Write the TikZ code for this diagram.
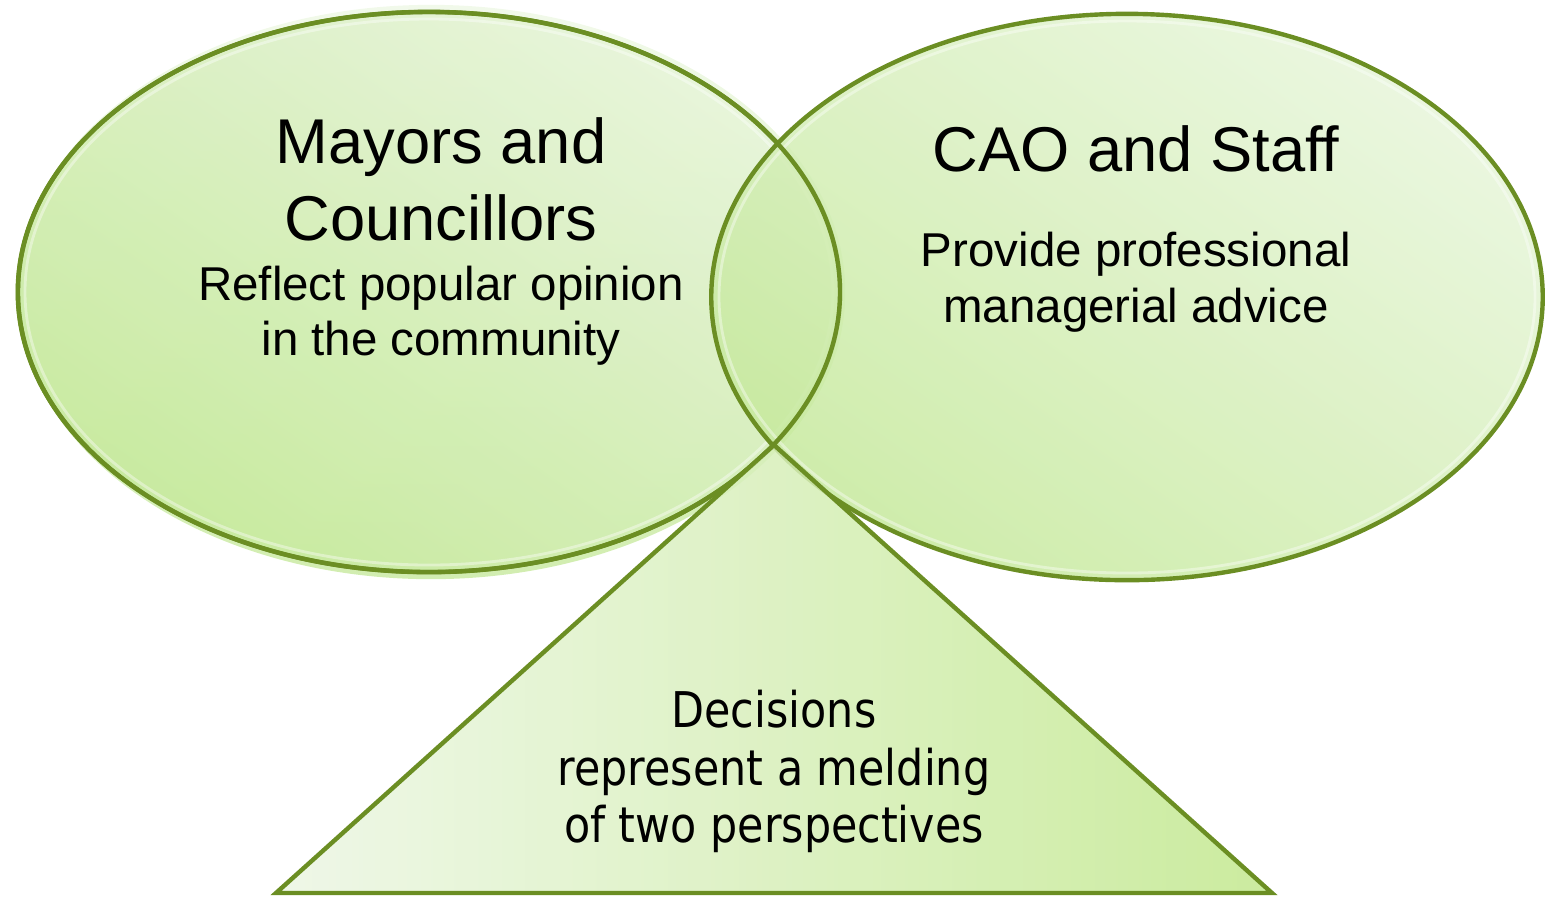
\documentclass[tikz,border=0pt]{standalone}
\usepackage{fontspec}
\setmainfont{Liberation Sans}
\newfontfamily\decfont[FakeStretch=0.87]{DejaVu Sans}
\usetikzlibrary{shapes.geometric, positioning}
\definecolor{vennline}{RGB}{107,142,35}
\definecolor{vennlight}{RGB}{231,245,218}
\definecolor{venndark}{RGB}{198,233,156}
\definecolor{trileft}{RGB}{236,246,228}
\definecolor{triright}{RGB}{194,232,142}

\begin{document}
\begin{tikzpicture}[x=0.01cm, y=-0.01cm,
		venn/.style={ellipse, draw=vennline, line width=1.25pt,
		             top color=vennlight, bottom color=venndark,
		             shading angle=-35, fill opacity=0.85},
		head/.style={anchor=base, font=\fontsize{18}{21}\selectfont},
		body/.style={anchor=base, font=\fontsize{13.5}{16}\selectfont},
		melding/.style={anchor=base, font=\decfont\fontsize{14}{16}\selectfont}]
		\useasboundingbox (0,0) rectangle (1545,896);
		% soft copy under the left circle
		\node[ellipse, minimum width=8.28cm, minimum height=5.74cm,
		      top color=vennlight!70!white, bottom color=venndark,
		      opacity=0.8] (councilglow) at (431,292) {};
		\node[venn, minimum width=8.22cm, minimum height=5.6cm] (council) at (429,292) {};
		\draw[white, opacity=0.4, line width=0.8pt] (council.center) ellipse [x radius=404, y radius=273];
		\node[venn, minimum width=8.31cm, minimum height=5.66cm] (staff) at (1127,297) {};
		\draw[white, opacity=0.4, line width=0.8pt] (staff.center) ellipse [x radius=408, y radius=276];
		% left outline stays visible through the right circle
		\draw[vennline, line width=1.25pt] (council.center) ellipse [x radius=411, y radius=280];
		% decision triangle
		\coordinate (apex) at (774,445);
		\coordinate (baseL) at (276,893);
		\coordinate (baseR) at (1272,893);
		\draw[draw=vennline, line width=1.25pt, left color=trileft, right color=triright,
		      fill opacity=0.85] (apex) -- (baseR) -- (baseL) -- cycle;
		% texts
		\node[head] (mayors) at (441,163) {Mayors and};
		\node[head] (councillors) at (441,240) {Councillors};
		\node[body] (reflect) at (441,300) {Reflect popular opinion};
		\node[body] (community) at (441,355) {in the community};
		\node[head] (cao) at (1136,171) {CAO and Staff};
		\node[body] (provide) at (1136,266) {Provide professional};
		\node[body] (advice) at (1136,322) {managerial advice};
		\node[melding] (decisions) at (774,727) {Decisions};
		\node[melding] (represent) at (774,785) {represent a melding};
		\node[melding] (perspectives) at (774,842) {of two perspectives};
	\end{tikzpicture}
\end{document}
